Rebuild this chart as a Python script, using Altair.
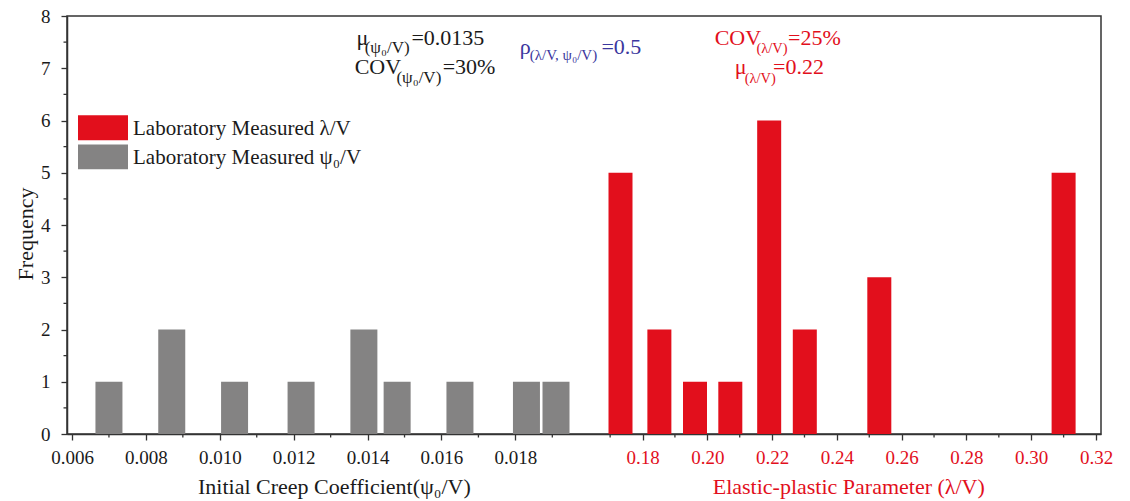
import altair as alt
import pandas as pd

FONT = "Liberation Serif"
W, H = 1034, 418

# ---- data ----
psi_bin_centers = [0.0070, 0.0087, 0.0104, 0.0122, 0.0139, 0.0148, 0.0165, 0.0183, 0.0191]
psi_counts = [1, 2, 1, 1, 2, 1, 1, 1, 1]
lam_bin_centers = [0.1732, 0.1852, 0.1962, 0.2071, 0.2191, 0.2301, 0.2531, 0.3100]
lam_counts = [5, 2, 1, 1, 6, 2, 3, 5]

psi_major = [0.006, 0.008, 0.010, 0.012, 0.014, 0.016, 0.018]
psi_minor = [0.007, 0.009, 0.011, 0.013, 0.015, 0.017, 0.019]
lam_major = [0.18, 0.20, 0.22, 0.24, 0.26, 0.28, 0.30, 0.32]
lam_minor = [0.17, 0.19, 0.21, 0.23, 0.25, 0.27, 0.29, 0.31]
freq_major = [0, 1, 2, 3, 4, 5, 6, 7, 8]
freq_minor = [0.5, 1.5, 2.5, 3.5, 4.5, 5.5, 6.5, 7.5]

RED = "#e20f1c"
GRAY = "#848383"
BLACK = "#1a1a1a"
BLUE = "#3b379e"
AXC = "#333333"

# two horizontal scales share one frame (left: psi0/V, right: lambda/V)
PSI_START, PSI_K = 0.006, 37308.0
LAM_END, LAM_K = 0.32, 3270.7
SPLIT = 560


def psi_pos(v):
    return (v - PSI_START) * PSI_K


def lam_pos(v):
    return W - (LAM_END - v) * LAM_K


psi_df = pd.DataFrame({"v": psi_bin_centers, "count": psi_counts})
lam_df = pd.DataFrame({"v": lam_bin_centers, "count": lam_counts})

x_tick_values = [psi_pos(t) for t in psi_major] + [lam_pos(t) for t in lam_major]
x_minor_df = pd.DataFrame({"pos": [psi_pos(t) for t in psi_minor] + [lam_pos(t) for t in lam_minor]})
y_minor_df = pd.DataFrame({"count": freq_minor})

label_expr = (
    f"datum.value < {SPLIT} ? format({PSI_START} + datum.value / {PSI_K}, '.3f')"
    f" : format({LAM_END} - ({W} - datum.value) / {LAM_K}, '.2f')"
)

x_scale = alt.Scale(domain=[0, W], nice=False, zero=False)
y_scale = alt.Scale(domain=[0, 8], nice=False)

x_axis = alt.Axis(
    values=x_tick_values,
    labelExpr=label_expr,
    title=None,
    grid=False,
    tickSize=6,
    labelPadding=23,
    labelBaseline="alphabetic",
    labelFlush=False,
    labelOverlap=False,
    labelColor={"condition": {"test": f"datum.value > {SPLIT}", "value": RED}, "value": BLACK},
)
y_axis = alt.Axis(
    values=freq_major,
    title=None,
    grid=False,
    tickSize=6,
    labelPadding=11,
)

gray_bars = (
    alt.Chart(psi_df)
    .transform_calculate(pos=f"(datum.v - {PSI_START}) * {PSI_K}")
    .mark_bar(size=27, color=GRAY)
    .encode(
        x=alt.X("pos:Q", scale=x_scale, axis=x_axis),
        y=alt.Y("count:Q", scale=y_scale, axis=y_axis),
    )
)
red_bars = (
    alt.Chart(lam_df)
    .transform_calculate(pos=f"{W} - ({LAM_END} - datum.v) * {LAM_K}")
    .mark_bar(size=24, color=RED)
    .encode(
        x=alt.X("pos:Q", scale=x_scale, axis=x_axis),
        y=alt.Y("count:Q", scale=y_scale, axis=y_axis),
    )
)

x_minor = (
    alt.Chart(x_minor_df)
    .mark_rule(color=AXC, strokeWidth=1.3)
    .encode(x=alt.X("pos:Q", scale=x_scale, axis=x_axis), y=alt.value(H), y2=alt.value(H + 3.5))
)
y_minor = (
    alt.Chart(y_minor_df)
    .mark_rule(color=AXC, strokeWidth=1.3)
    .encode(y=alt.Y("count:Q", scale=y_scale, axis=y_axis), x=alt.value(0), x2=alt.value(-3.5))
)

one = pd.DataFrame({"a": [0]})


def label(txt, x, y, size, color, angle=0):
    return (
        alt.Chart(one)
        .mark_text(align="left" if angle == 0 else "center", baseline="alphabetic" if angle == 0 else "middle",
                   font=FONT, fontSize=size, color=color, angle=angle)
        .encode(x=alt.value(x), y=alt.value(y), text=alt.value(txt))
    )


def box(x1, x2, y1, y2, color):
    return (
        alt.Chart(one)
        .mark_rect(color=color)
        .encode(x=alt.value(x1), x2=alt.value(x2), y=alt.value(y1), y2=alt.value(y2))
    )


annotations = [
    ("μ", 289.4, 29.3, 22, BLACK),
    ("(ψ₀/V)", 297.7, 37.0, 17, BLACK),
    ("=0.0135", 344.4, 29.3, 22, BLACK),
    ("COV", 287.7, 58.0, 22, BLACK),
    ("(ψ₀/V)", 329.4, 67.0, 17, BLACK),
    ("=30%", 375.7, 58.0, 22, BLACK),
    ("ρ", 452.7, 37.6, 22, BLUE),
    ("(λ/V, ψ₀/V)", 462.7, 43.6, 15, BLUE),
    ("=0.5", 534.4, 37.6, 22, BLUE),
    ("COV", 647.7, 29.3, 22, RED),
    ("(λ/V)", 689.4, 37.0, 14.5, RED),
    ("=25%", 721.0, 29.3, 22, RED),
    ("μ", 667.7, 58.0, 22, RED),
    ("(λ/V)", 677.7, 67.0, 14.5, RED),
    ("=0.22", 706.0, 58.0, 22, RED),
    ("Laboratory Measured λ/V", 66, 119.3, 21, BLACK),
    ("Laboratory Measured ψ₀/V", 66, 147.6, 21, BLACK),
    ("Initial Creep Coefficient(ψ₀/V)", 131, 478.3, 22, BLACK),
    ("Elastic-plastic Parameter (λ/V)", 645.7, 478.3, 22, RED),
]

layers = [gray_bars, red_bars, x_minor, y_minor,
          box(11, 61, 99.3, 124.3, RED), box(11, 61, 128.6, 153.3, GRAY)]
layers += [label(*a) for a in annotations]
layers.append(label("Frequency", -41, 218, 22, BLACK, angle=270))

chart = (
    alt.layer(*layers)
    .properties(
        width=W,
        height=H,
        padding={"left": 67, "top": 16, "right": 29, "bottom": 67},
        autosize=alt.AutoSizeParams(type="none"),
        background="white",
    )
    .configure_view(stroke=AXC, strokeWidth=1.5)
    .configure_axis(
        domainColor=AXC,
        domainWidth=1.5,
        tickColor=AXC,
        tickWidth=1.3,
        labelFont=FONT,
        labelFontSize=19,
        labelColor=BLACK,
    )
)

chart.save("out.html", embed_options={"renderer": "svg", "actions": False})
